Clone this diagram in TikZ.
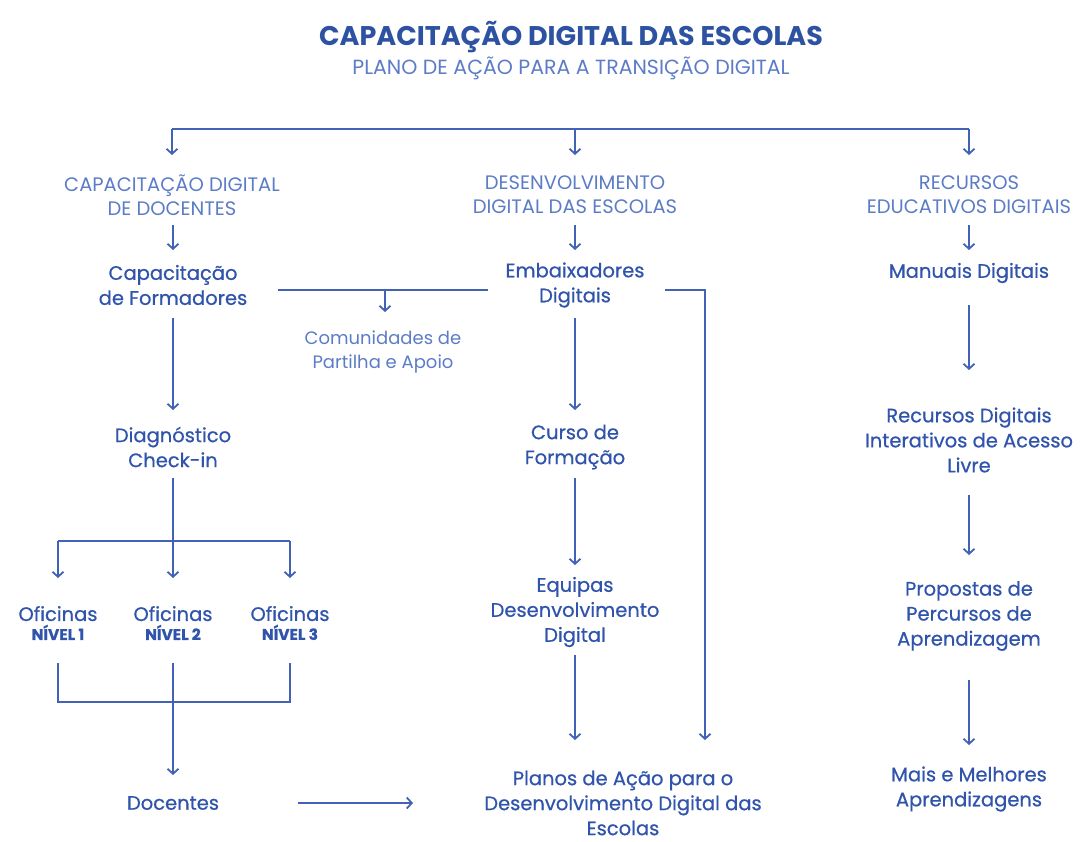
\documentclass[tikz,border=0pt]{standalone}
\usepackage{fontspec}
\setmainfont{Poppins}
\newfontfamily\medfont{Poppins}[FakeBold=0.6]
\newcommand\lvlfont{\fontsize{15.5}{16}\selectfont\bfseries}
\usetikzlibrary{arrows.meta,calc}
\definecolor{titleblue}{RGB}{45,82,162}
\definecolor{bodyblue}{RGB}{48,84,172}
\definecolor{headblue}{RGB}{92,124,200}
\definecolor{lineblue}{RGB}{66,98,184}
\begin{document}
\begin{tikzpicture}[x=1pt,y=-1pt,
  title/.style={font=\fontsize{27}{30}\selectfont\bfseries, text=titleblue, inner sep=0pt},
  subtitle/.style={font=\fontsize{20.5}{24}\selectfont, text=headblue, inner sep=0pt},
  head/.style={font=\fontsize{19.5}{24}\selectfont, text=headblue, align=center, inner sep=0pt},
  body/.style={font=\medfont\fontsize{19.5}{25}\selectfont, text=bodyblue, align=center, inner sep=0pt},
  light/.style={font=\fontsize{18}{24}\selectfont, text=headblue, align=center, inner sep=0pt},
  line/.style={draw=lineblue, line width=1.8pt},
  arr/.style={line, -{Straight Barb[length=5pt,width=11pt,line width=1.8pt]}}
]
\useasboundingbox[fill=white] (0,0) rectangle (1086,841);

\node[title] (t) at (571,37) {CAPACITAÇÃO DIGITAL DAS ESCOLAS};
\node[subtitle] (st) at (571,68) {PLANO DE AÇÃO PARA A TRANSIÇÃO DIGITAL};

\node[head] (cdd) at (172,195) {CAPACITAÇÃO DIGITAL\\DE DOCENTES};
\node[head] (dde) at (575,195) {DESENVOLVIMENTO\\DIGITAL DAS ESCOLAS};
\node[head] (red) at (969,195) {RECURSOS\\EDUCATIVOS DIGITAIS};

\node[body] (cf) at (173,285) {Capacitação\\de Formadores};
\node[body] (emb) at (575,285) {Embaixadores\\Digitais};
\node[body] (man) at (969,273) {Manuais Digitais};
\node[light] (com) at (383,352) {Comunidades de\\Partilha e Apoio};

\node[body] (diag) at (173,447) {Diagnóstico\\Check-in};
\node[body] (curso) at (575,447) {Curso de\\Formação};
\node[body] (rdi) at (969,440) {Recursos Digitais\\Interativos de Acesso\\Livre};

\node[body] (equ) at (575,612) {Equipas\\Desenvolvimento\\Digital};
\node[body] (prop) at (969,616) {Propostas de\\Percursos de\\Aprendizagem};

\node[body] (of1) at (58,623) {Oficinas\\[-6pt]{\lvlfont NÍVEL 1}};
\node[body] (of2) at (173,623) {Oficinas\\[-6pt]{\lvlfont NÍVEL 2}};
\node[body] (of3) at (290,623) {Oficinas\\[-6pt]{\lvlfont NÍVEL 3}};

\node[body] (doc) at (173,803) {Docentes};
\node[body] (planos) at (623,803) {Planos de Ação para o\\Desenvolvimento Digital das\\Escolas};
\node[body] (mais) at (969,789) {Mais e Melhores\\Aprendizagens};

% top bus
\draw[line] ($(cdd.center)+(0,-66)$) -- ($(red.center)+(0,-66)$);
\draw[arr] ($(cdd.center)+(0,-66)$) -- ($(cdd.center)+(0,-40)$);
\draw[arr] ($(dde.center)+(0,-66)$) -- ($(dde.center)+(0,-40)$);
\draw[arr] ($(red.center)+(0,-66)$) -- ($(red.center)+(0,-40)$);

% heads to first items
\draw[arr] ($(cdd.center)+(1,30)$) -- ($(cf.center)+(0,-35)$);
\draw[arr] ($(dde.center)+(0,30)$) -- ($(emb.center)+(0,-35)$);
\draw[arr] ($(red.center)+(0,30)$) -- ($(man.center)+(0,-23)$);

% formadores - embaixadores - comunidades
\draw[line] ($(cf.center)+(105,5)$) -- ($(emb.center)+(-87,5)$);
\draw[arr] ($(com.center)+(2,-62)$) -- ($(com.center)+(2,-40)$);
\draw[arr] ($(emb.center)+(90,5)$) -| ($(planos.center)+(82,-63)$);

% left column
\draw[arr] ($(cf.center)+(0,33)$) -- ($(diag.center)+(0,-37)$);
\draw[arr] ($(diag.center)+(0,31)$) -- ($(of2.center)+(0,-45)$);
\draw[line] ($(of1.center)+(0,-82)$) -- ($(of3.center)+(0,-82)$);
\draw[arr] ($(of1.center)+(0,-82)$) -- ($(of1.center)+(0,-45)$);
\draw[arr] ($(of3.center)+(0,-82)$) -- ($(of3.center)+(0,-45)$);
\draw[line] ($(of1.center)+(0,40)$) |- ($(of3.center)+(0,79)$) -- ($(of3.center)+(0,40)$);
\draw[arr] ($(of2.center)+(0,40)$) -- ($(doc.center)+(0,-28)$);
\draw[arr] ($(doc.center)+(125,0)$) -- ($(planos.center)+(-210,0)$);

% middle column
\draw[arr] ($(emb.center)+(0,33)$) -- ($(curso.center)+(0,-37)$);
\draw[arr] ($(curso.center)+(0,31)$) -- ($(equ.center)+(0,-47)$);
\draw[arr] ($(equ.center)+(0,43)$) -- ($(planos.center)+(-48,-63)$);

% right column
\draw[arr] ($(man.center)+(0,32)$) -- ($(rdi.center)+(0,-70)$);
\draw[arr] ($(rdi.center)+(0,55)$) -- ($(prop.center)+(0,-61)$);
\draw[arr] ($(prop.center)+(0,64)$) -- ($(mais.center)+(0,-44)$);
\end{tikzpicture}
\end{document}
